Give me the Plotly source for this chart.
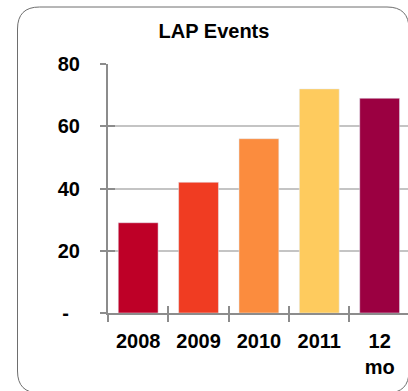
import plotly.graph_objects as go

# LAP event counts per period
periods = ["2008", "2009", "2010", "2011", "12 mo"]
period_labels = ["2008", "2009", "2010", "2011", "12<br>mo"]
events = [29, 42, 56, 72, 69]
bar_colors = ["#BE0027", "#F03C22", "#FB8C3E", "#FECB5E", "#9B0041"]

y_ticks = [0, 20, 40, 60, 80]
y_tick_text = ["-\u00a0\u00a0", "20", "40", "60", "80"]

W, H = 408, 391
M_L, M_R, M_T, M_B = 108, 0, 64, 78

FONT = "Liberation Sans, Arial, sans-serif"
AXIS_GREY = "#8C8C8C"
GRID_GREY = "#C4C4C4"

x_range = [-0.5, 4.47]
y_range = [0, 80]

fig = go.Figure()

fig.add_trace(go.Bar(
    x=periods, y=events,
    marker=dict(color=bar_colors, line=dict(width=0)),
    hoverinfo="skip",
))
# Invisible copy on overlay axes so the inside half of each tick is drawn
fig.add_trace(go.Bar(
    x=periods, y=events, xaxis="x2", yaxis="y2",
    marker=dict(color="rgba(0,0,0,0)"), hoverinfo="skip", showlegend=False,
))

fig.update_layout(
    width=W, height=H,
    margin=dict(l=M_L, r=M_R, t=M_T, b=M_B, pad=0),
    paper_bgcolor="white", plot_bgcolor="white",
    showlegend=False,
    bargap=0.34,
    font=dict(family=FONT, size=20, color="black", weight="bold"),
    title=dict(
        text="LAP Events", x=214 / W, xref="container", xanchor="center",
        y=1 - 31 / H, yref="container", yanchor="middle",
        font=dict(family=FONT, size=20, color="black", weight="bold"),
    ),
    xaxis=dict(
        type="category", categoryorder="array", categoryarray=periods,
        range=x_range, tickmode="array", tickvals=periods, ticktext=period_labels,
        tickson="boundaries", ticks="outside", ticklen=7, tickwidth=2,
        tickcolor=AXIS_GREY, showline=True, linecolor=AXIS_GREY, linewidth=2,
        showgrid=False, zeroline=False, ticklabelstandoff=9,
        tickfont=dict(family=FONT, size=20, color="black", weight="bold"),
    ),
    yaxis=dict(
        range=y_range, tickmode="array", tickvals=y_ticks, ticktext=y_tick_text,
        ticks="outside", ticklen=6, tickwidth=2, tickcolor=AXIS_GREY,
        showline=True, linecolor=AXIS_GREY, linewidth=2,
        showgrid=True, gridcolor=GRID_GREY, gridwidth=2, zeroline=False,
        ticklabelstandoff=16,
        tickfont=dict(family=FONT, size=20, color="black", weight="bold"),
    ),
    xaxis2=dict(
        type="category", categoryorder="array", categoryarray=periods,
        range=x_range, overlaying="x", anchor="y2", side="bottom",
        tickmode="array", tickvals=periods, tickson="boundaries",
        ticks="inside", ticklen=7, tickwidth=2, tickcolor=AXIS_GREY,
        showticklabels=False, showgrid=False, showline=False, zeroline=False,
    ),
    yaxis2=dict(
        range=y_range, overlaying="y", anchor="x2", side="left",
        tickmode="array", tickvals=y_ticks,
        ticks="inside", ticklen=7, tickwidth=2, tickcolor=AXIS_GREY,
        showticklabels=False, showgrid=False, showline=False, zeroline=False,
    ),
)

# Rounded frame around the whole chart, in pixels from the plot's lower-left corner
L, R, T, B, r = -90.5, 301, 306, -80, 22
frame = (
    f"M {L},{B + r} L {L},{T - r} Q {L},{T} {L + r},{T} "
    f"L {R - r},{T} Q {R},{T} {R},{T - r} L {R},{B + r} "
    f"Q {R},{B} {R - r},{B} L {L + r},{B} Q {L},{B} {L},{B + r} Z"
)
fig.add_shape(
    type="path", path=frame, xref="paper", yref="paper",
    xsizemode="pixel", ysizemode="pixel", xanchor=0, yanchor=0,
    line=dict(color="#6E6E6E", width=1), fillcolor="rgba(0,0,0,0)", layer="below",
)

fig.write_html("out.html")
